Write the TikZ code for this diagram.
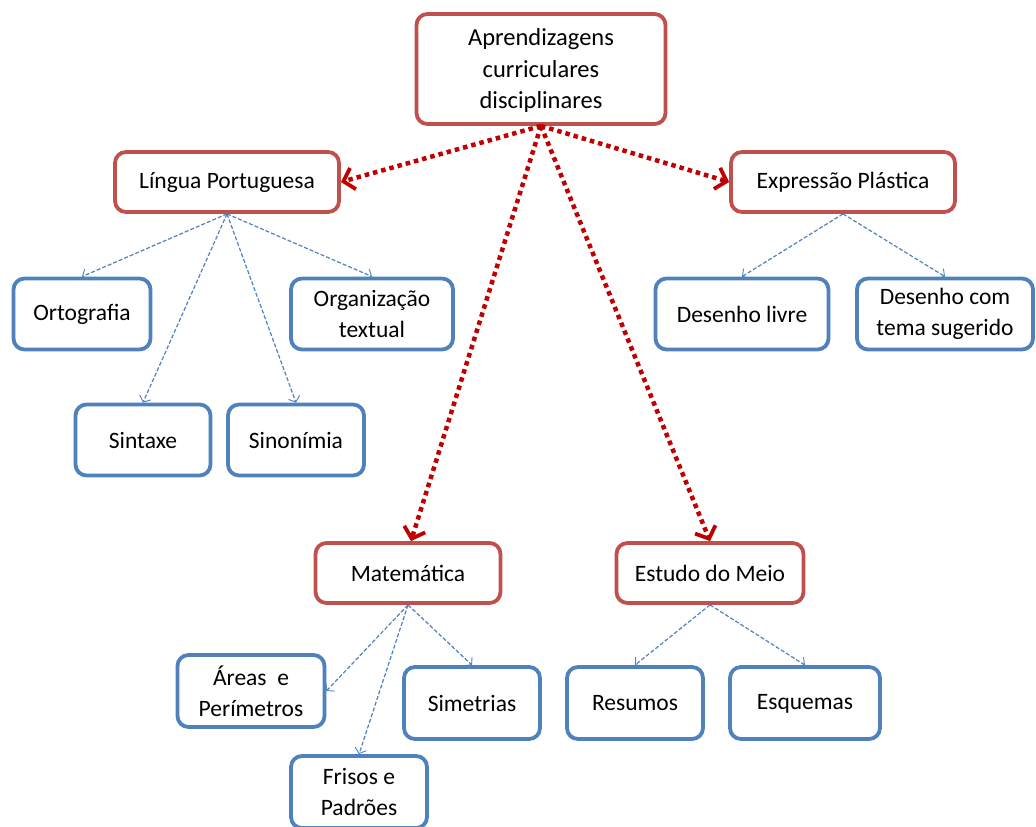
\documentclass[tikz,border=0pt]{standalone}
\usepackage{fontspec}
\setmainfont{Carlito}
\usetikzlibrary{arrows.meta}
\definecolor{boxred}{HTML}{C0504D}
\definecolor{boxblue}{HTML}{4F81BD}
\definecolor{linkred}{HTML}{C00000}
\begin{document}
\begin{tikzpicture}[x=1pt,y=-1pt,
  box/.style={draw, line width=3.8pt, rounded corners=11pt, fill=white,
    align=center, font=\fontsize{23.5}{31}\selectfont, inner sep=2pt},
  redbox/.style={box, draw=boxred},
  bluebox/.style={box, draw=boxblue},
  mainlink/.style={draw=linkred, line width=4.5pt, dash pattern=on 4.5pt off 4pt,
    -{Straight Barb[length=10pt,width=22pt,line width=3.8pt]}},
  sublink/.style={draw=boxblue, line width=1.2pt, dash pattern=on 4pt off 2pt,
    -{Straight Barb[length=5pt,width=12pt,line width=0.9pt]}}]
\useasboundingbox (0,0) rectangle (1036,827);
% subject areas
\node[redbox, minimum width=249, minimum height=110,
  font=\fontsize{24.5}{31.5}\selectfont] (top) at (541,69)
  {\rule{0pt}{20pt}Aprendizagens\\curriculares\\disciplinares};
\node[redbox, minimum width=224, minimum height=60] (lp) at (227,182) {Língua Portuguesa};
\node[redbox, minimum width=224, minimum height=60] (ep) at (843,182) {Expressão Plástica};
\node[redbox, minimum width=185, minimum height=60] (mat) at (408,573) {Matemática};
\node[redbox, minimum width=187, minimum height=60] (em) at (710,573) {Estudo do Meio};
% topics
\node[bluebox, minimum width=137, minimum height=71] (ort) at (82,314) {Ortografia};
\node[bluebox, minimum width=162, minimum height=71] (org) at (372,314) {Organização\\textual};
\node[bluebox, minimum width=135, minimum height=71] (sin) at (143,440) {Sintaxe};
\node[bluebox, minimum width=136, minimum height=71] (sno) at (296,440) {Sinonímia};
\node[bluebox, minimum width=173, minimum height=71] (dl) at (742,314) {Desenho livre};
\node[bluebox, minimum width=176, minimum height=71] (dc) at (945,314) {Desenho com\\tema sugerido};
\node[bluebox, minimum width=147, minimum height=72] (ar) at (251,691) {Áreas\ \ e\\Perímetros};
\node[bluebox, minimum width=136, minimum height=72] (sim) at (472,703) {Simetrias};
\node[bluebox, minimum width=136, minimum height=72] (fr) at (359,792) {Frisos e\\Padrões};
\node[bluebox, minimum width=136, minimum height=72] (res) at (635,703) {Resumos};
\node[bluebox, minimum width=150, minimum height=72] (esq) at (805,703) {\strut Esquemas};
% main links
\draw[mainlink] (top.south) -- (lp.east);
\draw[mainlink] (top.south) -- (ep.west);
\draw[mainlink] (top.south) -- ([xshift=3pt]mat.north);
\draw[mainlink] (top.south) -- (em.north);
% topic links
\draw[sublink] (lp.south) -- (ort.north);
\draw[sublink] (lp.south) -- (sin.north);
\draw[sublink] (lp.south) -- (sno.north);
\draw[sublink] (lp.south) -- (org.north);
\draw[sublink] (ep.south) -- (dl.north);
\draw[sublink] (ep.south) -- (dc.north);
\draw[sublink] (mat.south) -- (ar.east);
\draw[sublink] (mat.south) -- (fr.north);
\draw[sublink] (mat.south) -- (sim.north);
\draw[sublink] (em.south) -- (res.north);
\draw[sublink] (em.south) -- (esq.north);
\end{tikzpicture}
\end{document}
